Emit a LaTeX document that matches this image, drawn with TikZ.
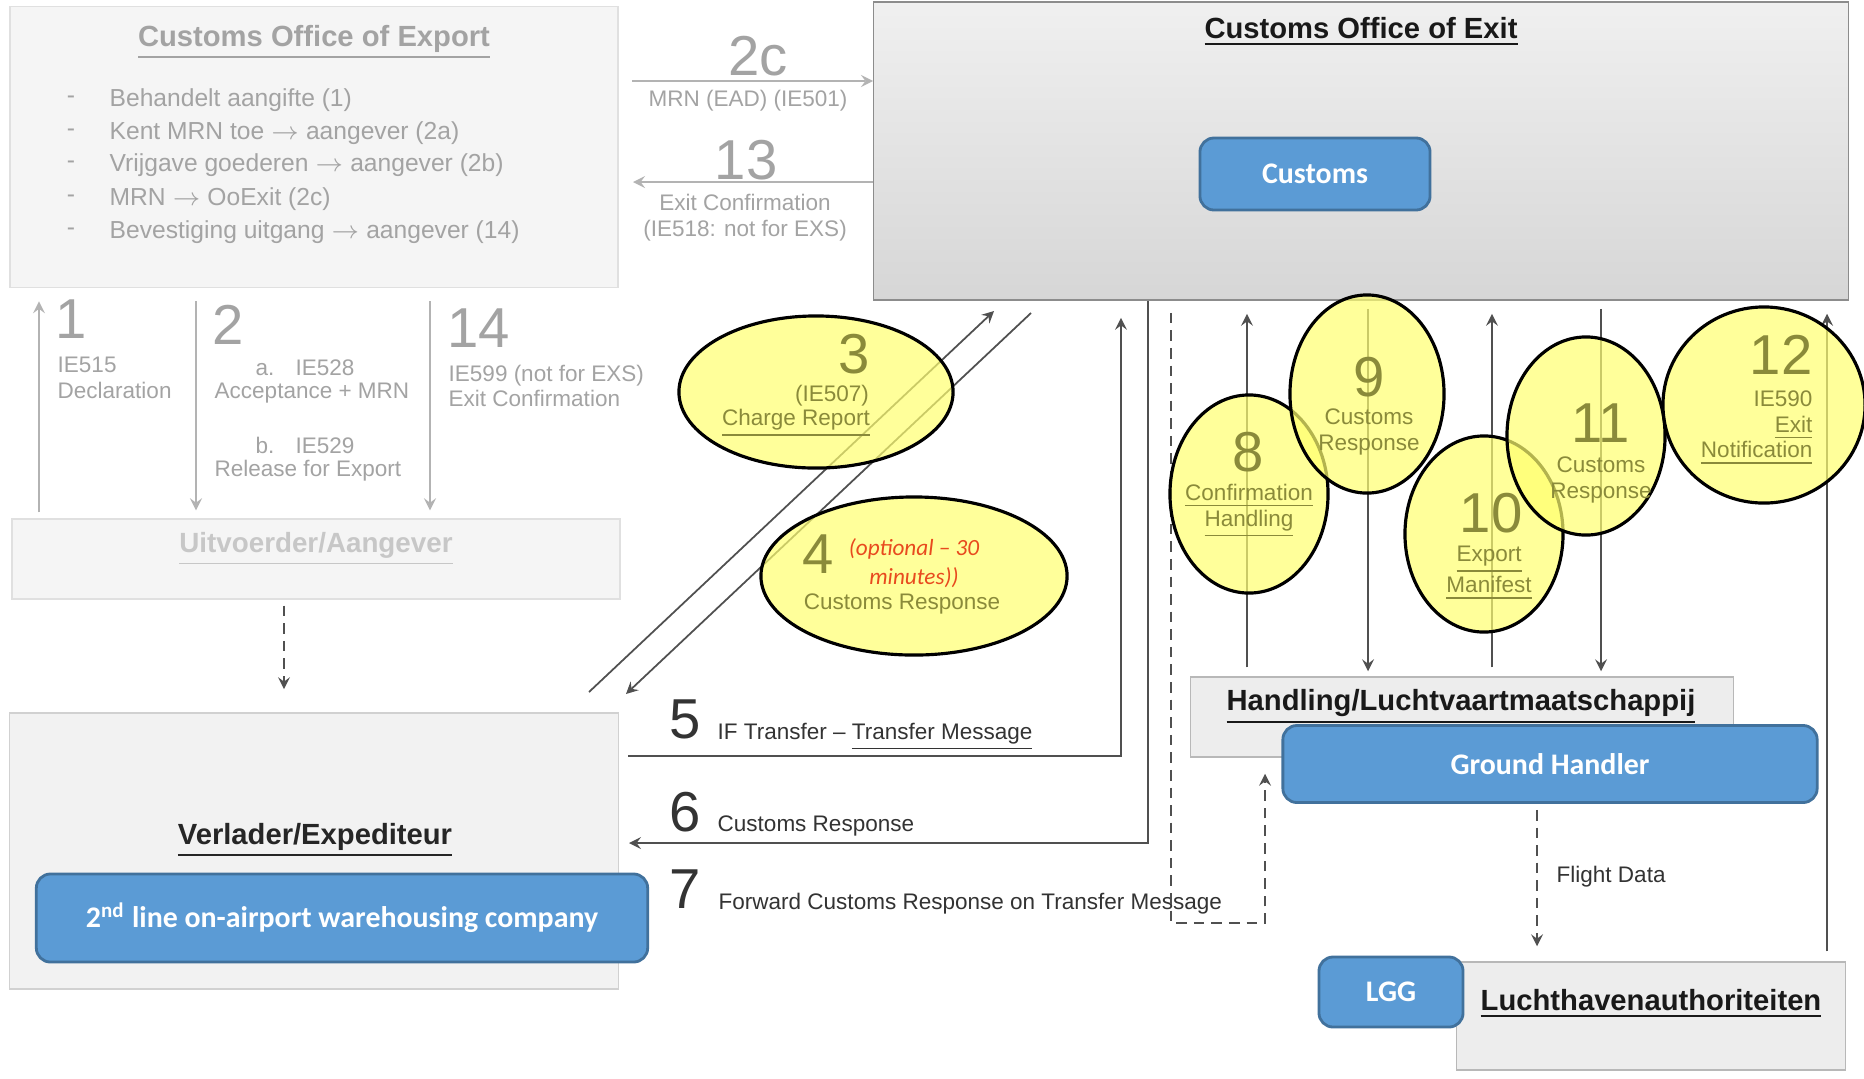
\documentclass[tikz,border=0pt]{standalone}
\usepackage{fontspec}
\setmainfont{Liberation Sans}
\newfontfamily\calibrifont{Carlito}
\usepackage{tikz}
\usetikzlibrary{calc}
\usetikzlibrary{positioning}
\usetikzlibrary{shapes.geometric, arrows}

\definecolor{fadetext}{HTML}{A3A3A3}
\definecolor{fadeline}{HTML}{B3B3B3}
\definecolor{darktext}{HTML}{333333}
\definecolor{darkline}{HTML}{505050}
\definecolor{blockblue}{HTML}{5B9BD5}
\definecolor{blockedge}{HTML}{41719C}
\definecolor{markyellow}{HTML}{FFFF70}
\definecolor{olivetext}{HTML}{8A8A3A}
\definecolor{optred}{HTML}{E84A1E}

\newcommand{\numfont}{\fontsize{16}{16}\selectfont}
\newcommand{\lblfont}{\fontsize{6.4}{7.3}\selectfont}
\newcommand{\listfont}{\fontsize{7}{9.4}\selectfont}
\newcommand{\ttlfont}{\fontsize{8.3}{10}\selectfont\bfseries}
\newcommand{\blkfont}{\calibrifont\fontsize{8.5}{10}\selectfont\bfseries}

\tikzstyle{arrow} = [draw=darkline,line width=0.5pt,->,>=stealth]
\tikzstyle{fadearrow} = [draw=fadeline,line width=0.5pt,->,>=stealth]
\tikzstyle{dasharrow} = [draw=darkline,line width=0.5pt,densely dashed,->,>=stealth]
\tikzstyle{fadebox} = [draw=black!12,fill=black!4,inner sep=0pt]
\tikzstyle{greybox} = [draw=black!45,top color=black!6,bottom color=black!16,inner sep=0pt]
\tikzstyle{lightbox} = [draw=black!28,fill=black!7,inner sep=0pt]
\tikzstyle{bluebox} = [draw=blockedge,fill=blockblue,rounded corners=4pt,line width=0.8pt,text=white,font=\blkfont,inner sep=0pt]
\tikzstyle{marker} = [ellipse,draw=black,line width=0.9pt,fill=markyellow,fill opacity=0.7,inner sep=0pt]
\tikzstyle{fadelbl} = [text=fadetext,font=\lblfont,inner sep=0pt]
\tikzstyle{darklbl} = [text=darktext,font=\lblfont,inner sep=0pt]
\tikzstyle{marktext} = [text=olivetext,font=\lblfont,inner sep=0pt,align=center]
\tikzstyle{marknum} = [text=olivetext,font=\numfont,inner sep=0pt]

\begin{document}
\begin{tikzpicture}[x=0.01cm,y=-0.01cm]
	\useasboundingbox (0,0) rectangle (1864,1078);
	\fill[white] (0,0) rectangle (1864,1078);
	% Customs Office of Export
	\node[fadebox,minimum width=6.08cm,minimum height=2.81cm] (export) at (314,147) {};
	\node[text=fadetext,font=\ttlfont] (exportttl) at (314,42) {\underline{Customs Office of Export}};
	\foreach \ly/\ltxt [count=\li] in {100/{Behandelt aangifte (1)},133/{Kent MRN toe $\rightarrow$ aangever (2a)},165/{Vrijgave goederen $\rightarrow$ aangever (2b)},199/{MRN $\rightarrow$ OoExit (2c)},232/{Bevestiging uitgang $\rightarrow$ aangever (14)}}{
		\node[fadelbl,font=\listfont] (dash\li) at (71,\ly) {-};
		\node[fadelbl,font=\listfont,anchor=west] (item\li) at (109,\ly) {\ltxt};
	}
	% Customs Office of Exit
	\node[greybox,minimum width=9.74cm,minimum height=2.98cm] (exit) at (1361,151) {};
	\node[font=\ttlfont,text=black!90] (exitttl) at (1361,32) {\underline{Customs Office of Exit}};
	\node[bluebox,minimum width=2.30cm,minimum height=0.72cm] (customs) at (1315,174) {Customs};
	% 2c and 13
	\coordinate (from2c) at (632,81);
	\draw[fadearrow] (from2c) -- (from2c -| exit.west);
	\node[text=fadetext,font=\numfont] (n2c) at (758,56) {2c};
	\node[fadelbl] (l2c) at (748,101) {MRN (EAD) (IE501)};
	\coordinate (to13) at (633,182);
	\draw[fadearrow] (to13 -| exit.west) -- (to13);
	\node[text=fadetext,font=\numfont] (n13) at (746,160) {13};
	\node[fadelbl,align=center] (l13) at (745,218) {Exit Confirmation\\(IE518: not for EXS)};
	% Uitvoerder/Aangever
	\node[fadebox,minimum width=6.08cm,minimum height=0.80cm] (uitv) at (316,559) {};
	\node[text=black!22,font=\fontsize{7.9}{10}\selectfont\bfseries] (uitvttl) at (316,549) {\underline{Uitvoerder/Aangever}};
	\draw[fadearrow,shorten <=0.6mm,shorten >=1.3mm] (39,0 |- uitv.north) -- (39,0 |- export.south);
	\draw[fadearrow,shorten <=1.3mm,shorten >=0.8mm] (196,0 |- export.south) -- (196,0 |- uitv.north);
	\draw[fadearrow,shorten <=1.3mm,shorten >=0.8mm] (430,0 |- export.south) -- (430,0 |- uitv.north);
	\node[text=fadetext,font=\numfont] (n1) at (71,319) {1};
	\node[fadelbl,align=left,anchor=west] (l1) at (57,378) {IE515\\Declaration};
	\node[text=fadetext,font=\numfont] (n2) at (228,325) {2};
	\node[fadelbl,anchor=west] (l2a) at (255,368) {a.\hspace{6pt}IE528};
	\node[fadelbl,anchor=west] (l2acc) at (214,393) {Acceptance + MRN};
	\node[fadelbl,anchor=west] (l2b) at (255,445) {b.\hspace{6pt}IE529};
	\node[fadelbl,anchor=west] (l2rel) at (214,471) {Release for Export};
	\node[text=fadetext,font=\numfont] (n14) at (479,328) {14};
	\node[fadelbl,align=left,anchor=west] (l14) at (448,386) {IE599 (not for EXS)\\Exit Confirmation};
	% Verlader/Expediteur
	\node[draw=black!18,fill=black!5,inner sep=0pt,minimum width=6.09cm,minimum height=2.76cm] (verl) at (314,851) {};
	\node[font=\ttlfont,text=black!85] (verlttl) at (315,840) {\underline{Verlader/Expediteur}};
	\node[bluebox,minimum width=6.11cm,minimum height=0.88cm] (whouse) at (342,918) {2\textsuperscript{nd} line on-airport warehousing company};
	\draw[dasharrow,shorten <=0.6mm,shorten >=2.3mm] (284,0 |- uitv.south) -- (284,0 |- verl.north);
	% 3 and 4
	\coordinate (d3a) at (589,692);
	\coordinate (d3b) at (994,311);
	\draw[arrow] (d3a) -- (d3b);
	\coordinate (d4a) at (1031,313);
	\coordinate (d4b) at (626,694);
	\draw[arrow] (d4a) -- (d4b);
	% 5, 6, 7
	\coordinate (s5) at (628,756);
	\draw[arrow,shorten >=1.7mm] (s5) -| (1121,0 |- exit.south);
	\coordinate (t6) at (629,843);
	\draw[arrow] (1148,0 |- exit.south) |- (t6);
	\node[font=\numfont,text=darktext] (n5) at (685,719) {5};
	\node[darklbl,anchor=base west] (l5) at (717,739) {IF Transfer \textendash{} \underline{Transfer Message}};
	\node[font=\numfont,text=darktext] (n6) at (685,812) {6};
	\node[darklbl,anchor=base west] (l6) at (717,831) {Customs Response};
	\node[font=\numfont,text=darktext] (n7) at (685,889) {7};
	\node[darklbl,anchor=base west] (l7) at (718,909) {Forward Customs Response on Transfer Message};
	% Handling/Luchtvaartmaatschappij
	\node[lightbox,minimum width=5.43cm,minimum height=0.80cm] (handl) at (1462,717) {};
	\node[font=\ttlfont,text=black!90] (handlttl) at (1461,707) {\underline{Handling/Luchtvaartmaatschappij}};
	\node[bluebox,minimum width=5.34cm,minimum height=0.77cm] (ghandler) at (1550,764) {Ground Handler};
	\coordinate (k7) at (1265,923);
	\draw[dasharrow,shorten <=1.2mm,shorten >=1.6mm] (1171,0 |- exit.south) |- (k7) -- (k7 |- handl.south);
	\foreach \cx in {1247,1492}
		\draw[arrow,shorten <=0.9mm,shorten >=1.3mm] (\cx,0 |- handl.north) -- (\cx,0 |- exit.south);
	\foreach \cx in {1368,1601}
		\draw[arrow,shorten <=0.8mm,shorten >=0.5mm] (\cx,0 |- exit.south) -- (\cx,0 |- handl.north);
	% Luchthavenauthoriteiten
	\node[lightbox,minimum width=3.89cm,minimum height=1.08cm] (lucht) at (1651,1016) {};
	\node[font=\ttlfont,text=black!90] (luchtttl) at (1651,1004) {\underline{Luchthavenauthoriteiten}};
	\node[bluebox,minimum width=1.44cm,minimum height=0.70cm] (lgg) at (1391,992) {LGG};
	\draw[dasharrow,shorten <=0.6mm,shorten >=1.5mm] (1537,0 |- ghandler.south) -- (1537,0 |- lucht.north);
	\node[darklbl,anchor=west] (lfd) at (1556,877) {Flight Data};
	\draw[arrow,shorten <=1mm,shorten >=1.3mm] (1827,0 |- lucht.north) -- (1827,0 |- exit.south);
	% highlighted steps
	\node[marker,minimum width=2.74cm,minimum height=1.52cm] (e3) at (816,392) {};
	\node[marknum] (n3) at ($(e3)+(38,-38)$) {3};
	\node[marktext] (l3a) at ($(e3)+(16,4)$) {(IE507)};
	\node[marktext] (l3b) at ($(e3)+(-20,31)$) {\underline{Charge Report}};
	\node[marker,minimum width=3.06cm,minimum height=1.58cm] (e4) at (914,576) {};
	\node[marknum] (n4) at ($(e4)+(-96,-22)$) {4};
	\node[marktext,text=optred,font=\calibrifont\itshape\fontsize{6.6}{8.2}\selectfont] (l4a) at ($(e4)+(0,-13)$) {(optional \textendash{} 30\\minutes))};
	\node[marktext] (l4b) at ($(e4)+(-12,28)$) {Customs Response};
	\node[marker,minimum width=1.58cm,minimum height=1.98cm] (e8) at (1249,494) {};
	\node[marknum] (n8) at ($(e8)+(-1,-42)$) {8};
	\node[marktext] (l8) at ($(e8)+(0,17)$) {\underline{Confirmation}\\\underline{Handling}};
	\node[marker,minimum width=1.54cm,minimum height=1.98cm] (e9) at (1367,394) {};
	\node[marknum] (n9) at ($(e9)+(2,-17)$) {9};
	\node[marktext] (l9) at ($(e9)+(2,38)$) {Customs\\Response};
	\node[marker,minimum width=1.58cm,minimum height=1.96cm] (e10) at (1484,534) {};
	\node[marknum] (n10) at ($(e10)+(7,-21)$) {10};
	\node[marktext] (l10) at ($(e10)+(5,39)$) {\underline{Export}\\\underline{Manifest}};
	\node[marker,minimum width=1.58cm,minimum height=1.98cm] (e11) at (1586,436) {};
	\node[marknum] (n11) at ($(e11)+(15,-13)$) {11};
	\node[marktext] (l11) at ($(e11)+(15,44)$) {Customs\\Response};
	\node[marker,minimum width=2.02cm,minimum height=1.96cm] (e12) at (1764,405) {};
	\node[marknum,anchor=east] (n12) at (1813,355) {12};
	\node[marktext,align=right,anchor=east] (l12) at (1813,428) {IE590\\\underline{Exit}\\\underline{Notification}};
\end{tikzpicture}
\end{document}
